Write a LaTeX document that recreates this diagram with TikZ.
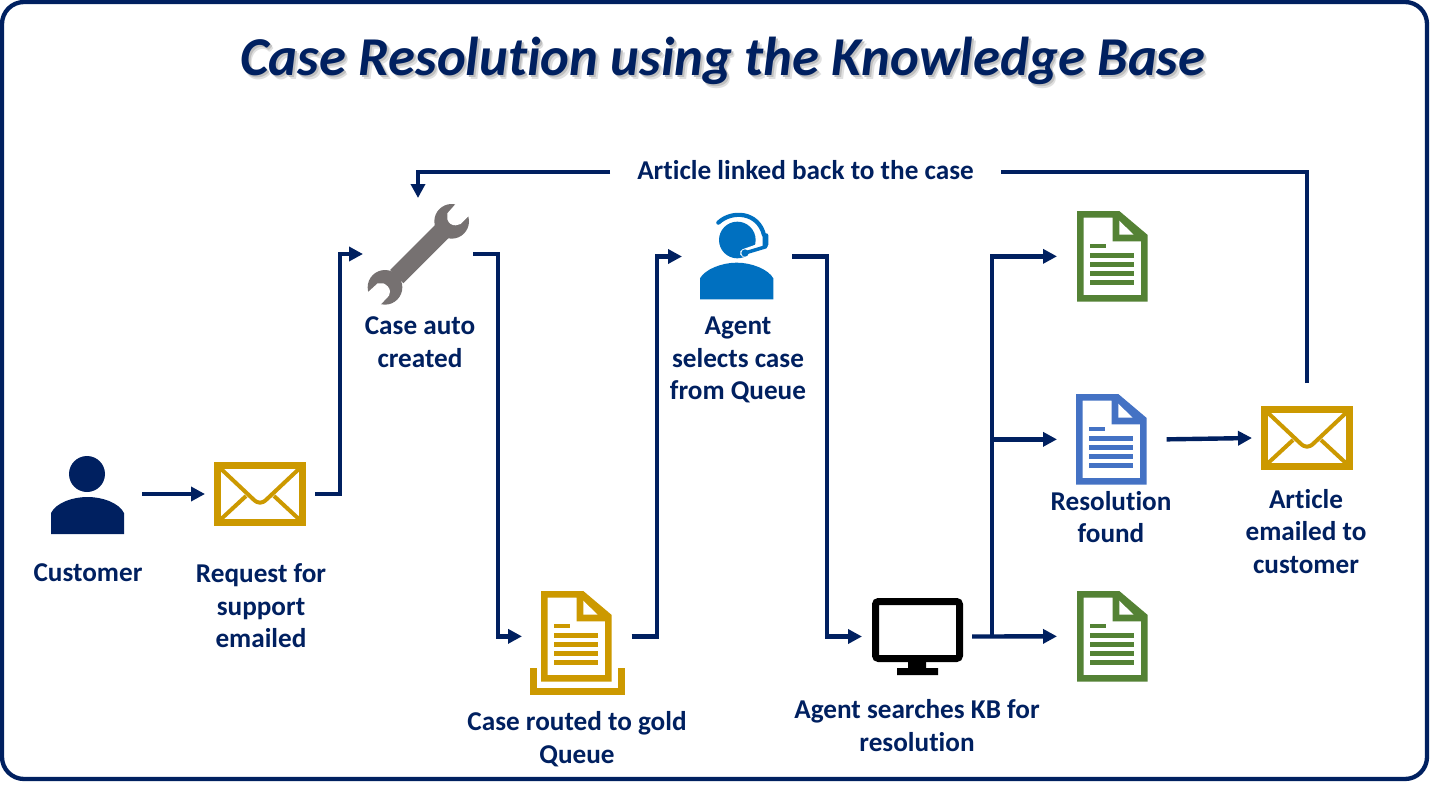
\documentclass[tikz,border=0pt]{standalone}
\usepackage{fontspec}
\setmainfont[Ligatures=NoCommon]{Carlito}
\usetikzlibrary{arrows.meta,calc}
\definecolor{navy}{HTML}{002060}
\definecolor{gold}{HTML}{CC9900}
\definecolor{leaf}{HTML}{548235}
\definecolor{docblue}{HTML}{4472C4}
\definecolor{agentblue}{HTML}{0070C0}
\definecolor{wrenchgray}{HTML}{767171}
\tikzset{
  conn/.style={draw=navy,line width=4.4pt,-{Triangle[length=14pt,width=14pt]}},
  plainconn/.style={draw=navy,line width=4.4pt},
  iconbox/.style={inner sep=0pt,outer sep=0pt,minimum width=#1},
  lbl/.style={text=navy,align=center,inner sep=0pt,outer sep=0pt,font=\bfseries\fontsize{27.2}{32.5}\selectfont},
  titletext/.style={inner sep=0pt,font=\bfseries\itshape\fontsize{54.75}{60}\selectfont},
}
\newcommand{\docicon}[4]{%
 \begin{scope}[shift={(#2,#3)}]
  \node[iconbox=70.7pt,minimum height=90.7pt,anchor=north west] (#1) at (0,0) {};
  \fill[#4,even odd rule] (0,0) -- (42.3,0) -- (70.7,24) -- (70.7,90.7) -- (0,90.7) -- cycle
     (6.7,6.7) -- (35.7,6.7) -- (35.7,30.3) -- (64,30.3) -- (64,84) -- (6.7,84) -- cycle;
  \fill[white] (42.3,9.7) -- (42.3,23.7) -- (56.6,23.7) -- cycle;
  \fill[#4] (13.3,33) rectangle (28.6,37.3);
  \foreach \ly in {42,51,60.3,69.3} {\fill[#4] (13.3,\ly) rectangle (57.3,\ly+4.6);}
 \end{scope}}
\newcommand{\mailicon}[3]{%
 \begin{scope}[shift={(#2,#3)}]
  \node[iconbox=92pt,minimum height=64pt,anchor=north west] (#1) at (0,0) {};
  \draw[gold,line width=4pt,line join=round] (5,5) -- (39,37) .. controls (44,42) and (48,42) .. (53,37) -- (87,5);
  \draw[gold,line width=4pt] (5,59) -- (32,34) (87,59) -- (60,34);
  \draw[gold,line width=7pt] (3.5,3.5) rectangle (88.5,60.5);
 \end{scope}}
\newcommand{\titlewords}{Case Resolution using the Knowledge Base}
\begin{document}
\begin{tikzpicture}[x=1pt,y=-1pt]
\useasboundingbox (0,0) rectangle (1430,787);
\fill[white] (0,0) rectangle (1430,787);
\draw[navy,line width=4.3pt,rounded corners=22pt] (2,2) rectangle (1427,779);
% title, with its soft shadow inside the same node
\node[titletext,text=navy] (title) at (723,63)
  {\makebox[0pt][l]{\raisebox{-3.6pt}{\hspace{3.4pt}\textcolor{black!12}{\titlewords}}}%
   \makebox[0pt][l]{\raisebox{-2.2pt}{\hspace{2pt}\textcolor{black!25}{\titlewords}}}%
   \titlewords};
% customer
\node[iconbox=73pt,minimum height=78pt] (customer) at (87.5,495) {};
\fill[navy] (87,474) circle (18);
\fill[navy] (51,534) -- (51,513) .. controls (56,503) and (72,497) .. (87.5,497) .. controls (103,497) and (119,503) .. (124,513) -- (124,534) -- cycle;
\mailicon{mailreq}{214}{462}
% wrench
\node[iconbox=100pt,minimum height=100pt] (wrench) at (418,254) {};
\begin{scope}[shift={(340,150)},x=0.33333pt,y=-0.33333pt]
 \fill[wrenchgray] (335,214) circle (52) (135,412) circle (52);
 \fill[wrenchgray] (150,360) -- (285,225) -- (325,265) -- (190,400) -- cycle;
 \fill[white] (353,155) -- (322,190) -- (322,208) .. controls (326,220) and (335,226) .. (347,226) -- (362,222) -- (392,192) -- (392,150) -- cycle;
 \fill[white] (80,430) -- (113,400) -- (130,400) .. controls (140,404) and (150,414) .. (150,425) -- (147,437) -- (118,468) -- (75,470) -- cycle;
\end{scope}
% agent
\node[iconbox=73pt,minimum height=87pt] (agent) at (736.5,256.5) {};
\begin{scope}[shift={(340,150)},x=0.33333pt,y=-0.33333pt]
 \fill[agentblue] (1192,270) circle (55);
 \fill[agentblue] (1080,448) -- (1080,385) .. controls (1095,358) and (1145,338) .. (1190,338) .. controls (1235,338) and (1285,358) .. (1300,385) -- (1300,448) -- cycle;
 \draw[white,line width=8pt,line cap=round] (1280,285) -- (1212,309);
 \draw[agentblue,line width=4.2pt,line cap=round] (1135,218) .. controls (1175,180) and (1255,185) .. (1272,255);
 \fill[agentblue,rounded corners=2pt] (1268,250) -- (1285,250) -- (1285,290) -- (1268,298) -- cycle;
 \draw[agentblue,line width=3.5pt,line cap=round] (1278,290) -- (1215,309);
 \fill[agentblue] (1215,309) circle (11);
\end{scope}
% queue
\docicon{queue}{541}{591}{gold}
\draw[gold,line width=7pt] (533.5,668) -- (533.5,691.5) -- (621.5,691.5) -- (621.5,668);
% monitor
\node[iconbox=91pt,minimum height=77pt,anchor=north west] (monitor) at (872,598) {};
\draw[black,line width=7pt,rounded corners=3pt] (875.5,601.5) rectangle (959.5,658.5);
\fill[black] (908,660) rectangle (926,668) (897,668) rectangle (938,675);
% documents
\docicon{kba}{1077}{211}{leaf}
\docicon{kbb}{1076}{394}{docblue}
\docicon{kbc}{1077}{591}{leaf}
\mailicon{mailart}{1261}{406}
% labels
\node[lbl] (lcustomer) at (88,573) {Customer};
\node[lbl] (lrequest) at (261,606) {Request for\\support\\emailed};
\node[lbl] (lcase) at (420,342) {Case auto\\created};
\node[lbl] (lagent) at (738,360) {Agent\\selects case\\from Queue};
\node[lbl] (lqueue) at (577,739) {Case routed to gold\\Queue};
\node[lbl] (lsearch) at (917,725.5) {Agent searches KB for\\resolution};
\node[lbl] (lfound) at (1111,517) {Resolution\\found};
\node[lbl] (lemailed) at (1306,531.5) {Article\\emailed to\\customer};
\node[lbl,minimum width=391pt,text depth=4pt] (llinked) at (805.5,172) {Article linked back to the case};
% connectors
\draw[conn] ([xshift=-72pt]mailreq.west) -- ([xshift=-9pt]mailreq.west);
\draw[conn] ([xshift=9pt]mailreq.east) -- ++(25,0) |- ([xshift=-5pt]wrench.west);
\draw[conn] ([xshift=5pt]wrench.east) -- ++(25,0) |- ([xshift=-19pt]queue.west);
\draw[conn] ([xshift=20pt]queue.east) -- ++(25,0) |- ([xshift=-18pt]agent.west);
\draw[conn] ([xshift=19pt]agent.east) -- ++(35,0) |- ([xshift=-10pt]monitor.west);
\coordinate (branch) at ($(monitor.east)+(29,0)$);
\draw[conn] ([xshift=9pt]monitor.east) -- ([xshift=-20pt]kbc.west);
\draw[conn] (branch) |- ([xshift=-20pt]kba.west);
\draw[conn] (branch |- kbb.west) -- ([xshift=-19pt]kbb.west);
\draw[conn] ([xshift=20pt]kbb.east) -- ([xshift=-9pt]mailart.west);
\draw[plainconn] ([yshift=23pt]mailart.north) |- (llinked.east);
\draw[conn] (llinked.west) -| ([yshift=6pt]wrench.north);
\end{tikzpicture}
\end{document}
